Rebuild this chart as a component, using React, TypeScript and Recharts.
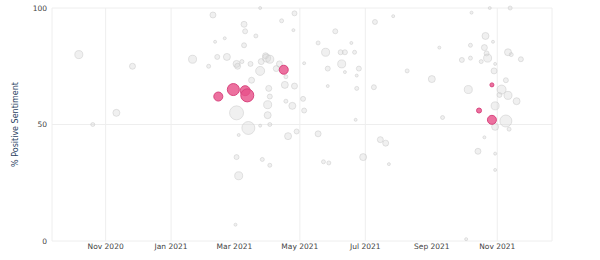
import React from 'react';
import { ScatterChart, Scatter, XAxis, YAxis, ZAxis, CartesianGrid } from 'recharts';

// other accounts (grey bubbles)
const otherDates = [
  '2020-10-07', '2020-10-20', '2020-11-11', '2020-11-26', '2021-01-21', '2021-02-05', '2021-02-09', '2021-02-11',
  '2021-02-13', '2021-02-20', '2021-02-22', '2021-03-02', '2021-03-03', '2021-03-04', '2021-03-03', '2021-03-03',
  '2021-03-05', '2021-03-05', '2021-03-08', '2021-03-10', '2021-03-11', '2021-03-10', '2021-03-14', '2021-03-16',
  '2021-03-17', '2021-03-21', '2021-03-25', '2021-03-26', '2021-03-27', '2021-03-25', '2021-03-25', '2021-03-30',
  '2021-03-31', '2021-04-03', '2021-04-02', '2021-04-03', '2021-04-01', '2021-04-01', '2021-04-03', '2021-04-03',
  '2021-04-09', '2021-04-12', '2021-04-14', '2021-04-17', '2021-04-18', '2021-04-18', '2021-04-20', '2021-04-24',
  '2021-04-26', '2021-04-26', '2021-04-25', '2021-04-28', '2021-05-04', '2021-05-05', '2021-05-05', '2021-05-18',
  '2021-05-18', '2021-05-23', '2021-05-28', '2021-05-25', '2021-05-27', '2021-05-27', '2021-06-03', '2021-06-08',
  '2021-06-12', '2021-06-09', '2021-06-12', '2021-06-21', '2021-06-18', '2021-06-25', '2021-06-23', '2021-06-23',
  '2021-06-22', '2021-06-29', '2021-07-09', '2021-07-10', '2021-07-15', '2021-07-20', '2021-07-23', '2021-07-27',
  '2021-08-09', '2021-09-01', '2021-09-08', '2021-09-11', '2021-09-29', '2021-10-05', '2021-10-07', '2021-10-07',
  '2021-10-08', '2021-10-14', '2021-10-17', '2021-10-20', '2021-10-21', '2021-10-20', '2021-10-22', '2021-10-23',
  '2021-10-28', '2021-10-29', '2021-10-30', '2021-10-30', '2021-10-30', '2021-10-30', '2021-10-30', '2021-11-03',
  '2021-11-05', '2021-11-09', '2021-11-09', '2021-11-11', '2021-11-14', '2021-11-11', '2021-11-12', '2021-11-19',
  '2021-11-23', '2021-11-13', '2021-10-25', '2021-10-03',
];
const otherSentiment = [
  80, 50, 55, 75, 78, 75, 97, 85.5,
  79, 87, 79, 7, 76, 75, 55, 36,
  28, 45.5, 77, 93, 90, 84, 48.5, 76,
  69, 88, 73, 77, 35, 49.5, 100, 79.5,
  78.5, 78, 65.5, 62, 58.5, 54, 50, 32.5,
  74, 76, 94.5, 67, 70.5, 60, 45, 58,
  66.5, 97.7, 90.5, 47, 61, 56, 76.3, 85,
  46, 34, 33.5, 81, 74, 66.5, 90, 81,
  81, 76, 72.5, 81, 85, 74, 71, 65.5,
  52, 36, 66, 94, 43.5, 42, 33, 96.5,
  73, 69.5, 83, 53, 77.7, 65, 84, 78.5,
  98, 38.5, 77, 44.5, 88, 83, 80.5, 78.5,
  85.5, 73, 76, 58, 49, 37.5, 30.5, 62.7,
  65, 69, 51.5, 81, 80, 62.5, 48, 60,
  78, 100, 100, 0.8,
];
const otherMentions = [
  64, 16, 49, 36, 64, 16, 36, 9,
  25, 9, 49, 9, 49, 36, 196, 25,
  64, 9, 16, 36, 25, 25, 169, 25,
  36, 16, 81, 36, 16, 9, 9, 36,
  64, 64, 36, 25, 64, 49, 16, 16,
  36, 36, 16, 49, 16, 16, 49, 49,
  36, 25, 9, 25, 25, 25, 9, 16,
  36, 16, 16, 64, 25, 9, 25, 25,
  25, 64, 9, 16, 9, 25, 9, 16,
  9, 49, 25, 25, 36, 36, 9, 9,
  16, 49, 9, 16, 25, 64, 16, 16,
  9, 36, 16, 9, 49, 36, 25, 64,
  9, 36, 9, 64, 49, 9, 9, 25,
  81, 25, 144, 49, 16, 64, 16, 49,
  25, 16, 9, 9,
];

// highlighted account (pink bubbles)
const focusDates = ['2021-02-14', '2021-02-28', '2021-03-11', '2021-03-13', '2021-04-16', '2021-10-15', '2021-10-27', '2021-10-27'];
const focusSentiment = [62, 65, 64.5, 62.5, 73.5, 56, 67, 52];
const focusMentions = [81, 144, 100, 169, 81, 25, 16, 81];

const tickDates = ['2020-11-01', '2021-01-01', '2021-03-01', '2021-05-01', '2021-07-01', '2021-09-01', '2021-11-01'];
const yTicks = [0, 50, 100];
const months = ['Jan', 'Feb', 'Mar', 'Apr', 'May', 'Jun', 'Jul', 'Aug', 'Sep', 'Oct', 'Nov', 'Dec'];

const toPoints = (dates: string[], vals: number[], counts: number[]) =>
  dates.map((d, i) => ({ x: Date.parse(d), y: vals[i], count: counts[i] }));

const otherData = toPoints(otherDates, otherSentiment, otherMentions);
const focusData = toPoints(focusDates, focusSentiment, focusMentions);

const fmtDate = (t: number) => {
  const d = new Date(t);
  return `${months[d.getUTCMonth()]} ${d.getUTCFullYear()}`;
};

const font = '"DejaVu Sans", Verdana, sans-serif';

export default function App() {
  return (
    <div style={{ position: 'absolute', left: 0, top: 0, background: '#fff' }}>
      <ScatterChart width={600} height={260} margin={{ top: 8, right: 48, bottom: 0, left: 0 }}>
        <CartesianGrid stroke="#eeeeee" />
        <XAxis
          type="number"
          dataKey="x"
          domain={[Date.parse('2020-09-12'), Date.parse('2021-12-22')]}
          ticks={tickDates.map((d) => Date.parse(d))}
          tickFormatter={fmtDate}
          height={19}
          axisLine={false}
          tickLine={false}
          tickSize={0}
          tickMargin={3}
          tick={{ fontSize: 7.5, fill: '#444', fontFamily: font }}
        />
        <YAxis
          type="number"
          dataKey="y"
          domain={[0, 100]}
          ticks={yTicks}
          width={52}
          axisLine={false}
          tickLine={false}
          tickSize={0}
          tickMargin={5}
          tick={{ fontSize: 7.5, fill: '#444', fontFamily: font }}
          label={{
            content: ({ viewBox }: any) => {
              const cx = viewBox.x + 15;
              const cy = viewBox.y + viewBox.height / 2;
              return (
                <text x={cx} y={cy} transform={`rotate(-90 ${cx} ${cy})`} textAnchor="middle" dominantBaseline="central"
                  fontSize={8} fill="#2a3f5f" fontFamily={font}>
                  % Positive Sentiment
                </text>
              );
            },
          }}
        />
        <ZAxis type="number" dataKey="count" domain={[0, 196]} range={[0, 154]} />
        <Scatter data={otherData} fill="#d4d4d4" fillOpacity={0.35} stroke="#c4c4c4" strokeOpacity={0.45} strokeWidth={1} isAnimationActive={false} />
        <Scatter data={focusData} fill="#e8528a" fillOpacity={0.82} stroke="#d9467f" strokeWidth={1} isAnimationActive={false} />
      </ScatterChart>
    </div>
  );
}
